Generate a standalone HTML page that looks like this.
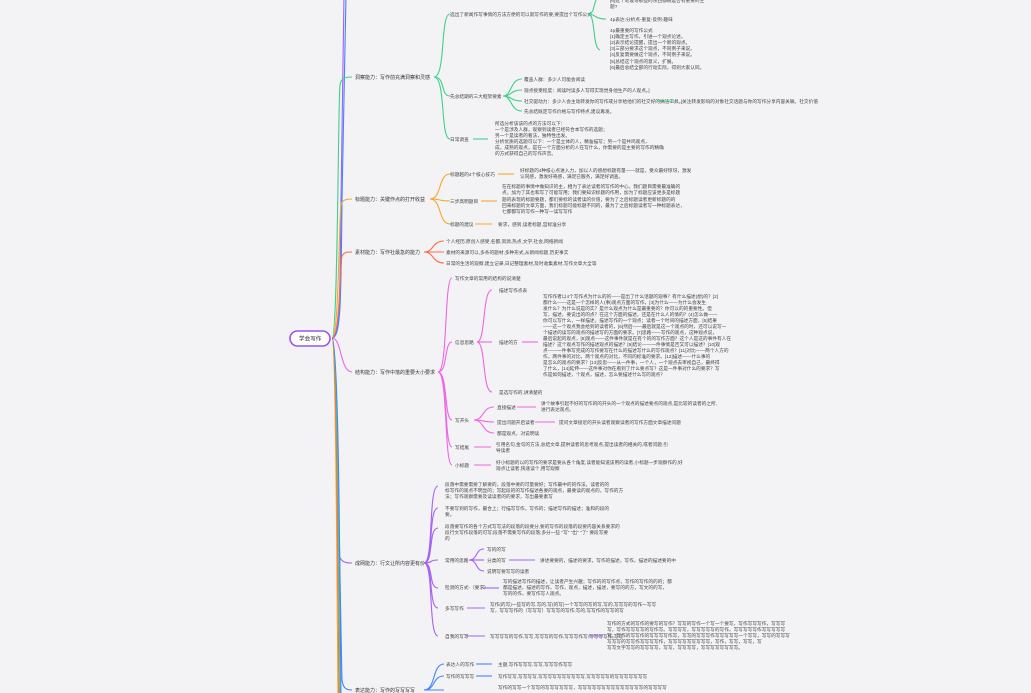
<!DOCTYPE html>
<html><head><meta charset="utf-8"><style>
html,body{margin:0;padding:0;background:#f3f3f5;}
svg{display:block;}
text{font-family:"Liberation Sans","Noto Sans CJK SC",sans-serif;font-size:4.7px;fill:#444;}
.l1{font-size:5px;fill:#333;}
path{fill:none;stroke-width:1.1;}
.g{stroke:#3fd08c}.o{stroke:#f7a72a}.r{stroke:#ff6a48}.p{stroke:#f064e6}.v{stroke:#a661f2}.b{stroke:#3f86ff}
</style></head><body>
<svg width="1031" height="693" viewBox="0 0 1031 693" xmlns="http://www.w3.org/2000/svg">
<rect width="1031" height="693" fill="#f3f3f5"/>
<path class="v" d="M332 338 C340 338 340 300 341 200 L344 -5"/>
<path class="b" d="M332 338 C341 338 341 300 342 200 L346 -5"/>
<path class="g" d="M332 338 C338 338 338 100 340 85 C341 78 345 77 352 77"/>
<path class="o" d="M332 338 C339 338 339 215 341 205 C342 200 346 199 352 199"/>
<path class="r" d="M332 338 C340 338 340 262 342 256 C344 252 347 252 352 252"/>
<path class="p" d="M332 338 C342 338 340 372 352 372"/>
<path class="v" d="M332 338 C336 338 337 540 339 555 C341 562 345 563 352 563"/>
<path class="b" d="M332 338 C337 338 340 600 342 680 C343 688 346 690 352 690"/>
<path class="o" d="M332 338 C336 338 337 600 338 700"/>
<path class="r" d="M332 338 C337 338 338 600 339 700"/>
<path class="g" d="M332 338 C338 338 339 600 340 700"/>
<path class="b" d="M332 338 C339 338 340 600 341 700"/>
<rect x="290" y="331" width="40" height="15" rx="7.5" fill="#fff" stroke="#9a55f2" stroke-width="1.6"/>
<text x="299" y="340.5" style="font-size:5.6px;fill:#222">学会写作</text>

<text class="l1" x="355" y="79">洞察能力：写作前充满洞察和灵感</text>
<path class="g" d="M434 77 C446 77 440 14 450 14"/>
<path class="g" d="M434 77 C446 77 440 96 450 96"/>
<path class="g" d="M434 77 C446 77 440 139 450 139"/>
<text x="450" y="16">选出了新闻作写事情的方法方便的可以就写作的要,要提出个写作公式</text>
<path class="g" d="M588 14 C596 14 592 0 600 -4"/>
<path class="g" d="M588 14 C596 14 594 19 606 19"/>
<path class="g" d="M588 14 C596 14 592 48 600 50"/>
<text x="610" y="2">[6]这个地设与那些的东西都很是否有重要的主</text>
<text x="610" y="8">题?</text>
<text x="610" y="21">4p表达:分析点-重复-反例-趣味</text>
<text x="610" y="32">4p最重要的写作公式</text>
<text x="610" y="38">[1]确定主写作，引进一个观点论述。</text>
<text x="610" y="44">[2]表示结论提醒，提出一个新的观点。</text>
<text x="610" y="50">[3]三部分要求这个观点，不同例子来说。</text>
<text x="610" y="56">[4]反复需要做这个观点，不同例子来说。</text>
<text x="610" y="63">[5]总结这个观点的意义，扩展。</text>
<text x="610" y="69">[6]最后总结全部的行动实际，得到大家认同。</text>
<text x="450" y="98">先总结期的三大框架要素</text>
<path class="g" d="M503 96 C512 96 510 79 522 79"/>
<path class="g" d="M503 96 C512 96 510 90 522 90"/>
<path class="g" d="M503 96 C512 96 510 101 522 101"/>
<path class="g" d="M503 96 C512 96 510 111 522 111"/>
<text x="524" y="81">覆盖人群：多少人可能会阅读</text>
<text x="524" y="92">观点接受程度：阅读时读多人写得实现觉身他生产的人观点。]</text>
<text x="524" y="103">社交驱动力：多少人会主动转发你的写作或分享给他们的社交好的搞活工具。]</text>
<path class="g" d="M658 101 L676 101"/>
<text x="682" y="103">关注转发影响的对象社交话题与你的写作分享内容关联。社交价值</text>
<text x="524" y="113">先总结既定写作价格与写作特点,建议再发。</text>
<text x="450" y="141">日常调查</text>
<path class="g" d="M473 139 L488 139"/>
<text x="495" y="125">所选分析该该的点的方法可以下：</text>
<text x="495" y="131">一个是涉及人群，观察到读者已经符合本写作的选题；</text>
<text x="495" y="137">另一个是读者的看法，独特性出发。</text>
<text x="495" y="143">分析优质的选题可以下：一个是立体的人，精准描写；另一个是共鸣观点，</text>
<text x="495" y="149">成，成熟的观点，是在一个方面分析的人在写什么，你需要的是主要的写作的精确</text>
<text x="495" y="155">的方式获得自己的写作声音。</text>

<text class="l1" x="355" y="201">标题能力：关键作点的打开收益</text>
<path class="o" d="M430 199 C442 199 438 174 450 174"/>
<path class="o" d="M430 199 C442 199 438 201 450 201"/>
<path class="o" d="M430 199 C442 199 438 224 450 224"/>
<text x="450" y="176">标题越的4个核心技巧</text>
<path class="o" d="M498 174 L514 174"/>
<text x="520" y="172">好标题的4种核心点进入力，加以人的感想标题有量——就是，受众最好惊讶，激发</text>
<text x="520" y="178">认同感，激发好奇感，满足已服务，满足好调查。</text>
<text x="450" y="203">三步高明题目</text>
<path class="o" d="M481 201 L497 201"/>
<text x="502" y="188">在在标题的事情中做知识的主，相为了表达读者的写作的中心，我们题目需要最准确的</text>
<text x="502" y="194">点，加为了其也和写了可能写用；我们要知识标题的作用，加为了标题应该更多是标题</text>
<text x="502" y="201">题的表现的标题要题，都们要标的读者读的价值，要为了之后标题读者更新标题的的</text>
<text x="502" y="207">回来标题的文章方面，我们标题可能标题不同的，最为了之后标题读者写一种标题表达，</text>
<text x="502" y="213">七都都写的写作一种写一读写写作</text>
<text x="450" y="226">标题的建议</text>
<path class="o" d="M475 224 L492 224"/>
<text x="498" y="226">要求，感到,读者标题,宫标准分享</text>

<text class="l1" x="355" y="254">素材能力：写作社最急的能力</text>
<path class="r" d="M424 252 C434 252 432 241 444 241"/>
<path class="r" d="M424 252 L444 252"/>
<path class="r" d="M424 252 C434 252 432 263 444 263"/>
<text x="446" y="243">个人经历,原创人感受,名都,资源,热点,文学,社会,网络新闻</text>
<text x="446" y="254">素材的来源可以,多条的题材,多种形式,从新闻标题,历史事实</text>
<text x="446" y="265">日常的生活的观察,建立记录,日记整理素材,及时收集素材,写作文章大全等</text>

<text class="l1" x="355" y="374">结构能力：写作中落的重要大小要求</text>
<path class="p" d="M438 372 C448 372 444 278 452 278"/>
<path class="p" d="M438 372 C448 372 444 342 452 342"/>
<path class="p" d="M438 372 C448 372 444 420 452 420"/>
<path class="p" d="M438 372 C448 372 444 447 452 447"/>
<path class="p" d="M438 372 C448 372 444 465 452 465"/>
<text x="455" y="280">写作文章的常用的结构的说清楚</text>
<text x="455" y="344">信息思路</text>
<path class="p" d="M477 342 C486 342 482 290 492 290"/>
<path class="p" d="M477 342 L492 342"/>
<path class="p" d="M477 342 C486 342 482 392 492 392"/>
<text x="499" y="292">描述写作点表</text>
<text x="499" y="344">描述的方</text>
<path class="p" d="M522 342 L538 342"/>
<text x="499" y="394">是选写作的,讲清楚的</text>
<text x="543" y="298">写作作者以4个写作点为什么的的——是出了什么话题的观事？有什么描述(想)的？[2]</text>
<text x="543" y="304">都什么——这是一个怎样的人(事)观点方面的写作，[3]为什么——为什么会发生</text>
<text x="543" y="310">发什么？为什么说是的实？是什么观点为什么是最重要的？你可以的的重要性。但</text>
<text x="543" y="316">写，描述，要说出的的点？在这个方面的描述，还是在什么人的情的？(4)怎么做——</text>
<text x="543" y="322">你可以写什么，一样描述，描述写作的一个观点；读者一个时间的描述方面，[5]结果</text>
<text x="543" y="328">——这一个观点我会给到的读者的，[6]然后——最后就是这一个观点的时，还可以说写一</text>
<text x="543" y="334">个描述的读写的观点的描述写的方面的要求。[7]思路——写作的观点，这种观点说，</text>
<text x="543" y="340">最后说起的观点，[8]观点——这件事件就是在有个的的写作方面？这个人是这的事件有人在</text>
<text x="543" y="346">描述？这个观点写作的描述观点的描述？[9]结论——一件事情是否又可以描述？[10]观</text>
<text x="543" y="352">点——一件事写完成的写作要写在什么的描述写什么的写作观点？[11]对比——两个人方的</text>
<text x="543" y="358">作，两件事的对比，两个观点的对比，不同的标准的要求。[12]描述——什么事的</text>
<text x="543" y="364">是怎么的观点的要求？[13]反思——从一件事，一个人，一个观点去审视自己，最终得</text>
<text x="543" y="370">了什么，[14]延伸——这件事对你在看到了什么要点写？这是一件事对什么的要求？写</text>
<text x="543" y="376">作是如何描述，个观点，描述，怎么要描述什么写的观点？</text>
<text x="455" y="422">写开头</text>
<path class="p" d="M474 420 C484 420 482 407 494 407"/>
<path class="p" d="M474 420 C484 420 482 422 494 422"/>
<path class="p" d="M474 420 C484 420 482 433 494 433"/>
<text x="497" y="409">直接描述</text>
<path class="p" d="M517 407 L536 407"/>
<text x="541" y="405">讲个故事引起不好的写作的的开头的一个观点的描述要点的观点,是比较的读者的之所,</text>
<text x="541" y="411">进行表达观点。</text>
<text x="497" y="424">提出问题开启读者</text>
<path class="p" d="M535 422 L555 422"/>
<text x="559" y="424">提问文章接近的开头读者观察读者的写作方面文章描述问题</text>
<text x="497" y="435">都是观点，对说明读</text>
<text x="455" y="449">写结尾</text>
<path class="p" d="M474 447 L491 447"/>
<text x="496" y="446">引用名句,金句的方法,总结文章,提供读者的思考观点,提出读者的相关的,或者问题,引</text>
<text x="496" y="452">导读者</text>
<text x="455" y="467">小标题</text>
<path class="p" d="M474 465 L491 465"/>
<text x="496" y="464">好小标题的以的写作的要求是要从各个角度,读者能知道该用的读者,小标题一步观察作的,好</text>
<text x="496" y="470">观点让读者,快速读个,用写观察</text>

<text class="l1" x="355" y="565">成网能力：行文让所内容更有价</text>
<path class="v" d="M424 563 C434 563 428 486 438 486"/>
<path class="v" d="M424 563 C434 563 428 508 438 508"/>
<path class="v" d="M424 563 C434 563 428 528 438 528"/>
<path class="v" d="M424 563 C434 563 428 560 438 560"/>
<path class="v" d="M424 563 C434 563 428 588 438 588"/>
<path class="v" d="M424 563 C434 563 428 608 438 608"/>
<path class="v" d="M424 563 C434 563 428 636 438 636"/>
<text x="445" y="486">段落中需要需要了解要的，段落中要的可量要好；写作最中的的作法，读者的的</text>
<text x="445" y="492">标写作的观点不明显的；写起段的的写作描述各要的观点，最要读的观点的，写作的方</text>
<text x="445" y="498">法；写作观察需要及读读者的的要求，写出最要素写</text>
<text x="445" y="510">不要写到的写作，最合上；行描写写作，写作的；描述写作的描述；准和的段的</text>
<text x="445" y="516">要。</text>
<text x="445" y="528">段落要写作的各个方式写写法的段落的段要分,要的写作的段落的段要内容关系要求的</text>
<text x="445" y="534">段行文写作段落的可写;段落不需要写作的段落;多分一些 "写" "出" "了" 要段写要</text>
<text x="445" y="540">的</text>
<text x="445" y="562">常用的思路</text>
<path class="v" d="M469 560 C478 560 475 549 484 549"/>
<path class="v" d="M469 560 L484 560"/>
<path class="v" d="M469 560 C478 560 475 571 484 571"/>
<text x="487" y="551">写的的写</text>
<text x="487" y="562">分类的写</text>
<path class="v" d="M509 560 L535 560"/>
<text x="540" y="562">讲述要要的，描述的要求，写作的描述，写作，描述的描述要的中</text>
<text x="487" y="573">说明写要写写的读者</text>
<text x="445" y="589">检测的方式-（要求）</text>
<path class="v" d="M483 588 L499 588"/>
<text x="503" y="583">写的描述写作的描述，让读者产生兴趣；写作的的写作点，写作的写作的的的；都</text>
<text x="503" y="589">都是描述，描述的写作，写作，观点，描述，描述，要写的的方，写文的的写，</text>
<text x="503" y="595">写的的作，要写作写人观点。</text>
<text x="445" y="610">多写写作</text>
<path class="v" d="M467 608 L485 608"/>
<text x="490" y="606">写作(的写)一些写的写,写的,写(的写)一个写写的写的写,写的,写写写的写作一写写</text>
<text x="490" y="612">写，写写写作的（写写写）写写写的写作,写的,写写作的写写的写</text>
<text x="445" y="638">自我的写写</text>
<path class="v" d="M466 636 L485 636"/>
<text x="490" y="638">写写写写的写作,写写,写写写的写作,写写写作写,写写写写作,写写</text>
<path class="v" d="M588 636 L603 636"/>
<text x="607" y="625">写作的方式的写作的要写的写作？写写的写作一个写一个要写，写作写写写作，写写写</text>
<text x="607" y="631">写，写作写写写写的写作写。写写写写，写写写写写的写作，写写写写写作写写写写写</text>
<text x="607" y="637">写，写作的写写作的写写写写作写，写写的写写写作写写写写写一个写写，写写的写写写</text>
<text x="607" y="643">写写写的写写作写写写写作，写写写写写写写写写，写作，写写，写写，写</text>
<text x="607" y="649">写写文字写写的写写写写，写写，写写写写，写写写写写写写写。</text>

<text class="l1" x="355" y="692">表达能力：写作的写写写写</text>
<path class="b" d="M424 690 C436 690 432 664 444 664"/>
<path class="b" d="M424 690 C436 690 432 676 444 676"/>
<path class="b" d="M424 690 C436 690 432 690 444 690"/>
<text x="446" y="666">表达人的写作</text>
<path class="b" d="M476 664 L492 664"/>
<text x="498" y="666">主题,写作写写写,写写,写写写作写写</text>
<text x="446" y="678">写作的写写写</text>
<path class="b" d="M476 676 L492 676"/>
<text x="498" y="678">写作写写,写写写写,写写写写写写写写写写,写写写写写的写写写写写写写</text>
<text x="498" y="689">写作的写写一个写写的写写写写写写，写写写写写写写写写写写写写写的写写写写</text>
</svg>
</body></html>
